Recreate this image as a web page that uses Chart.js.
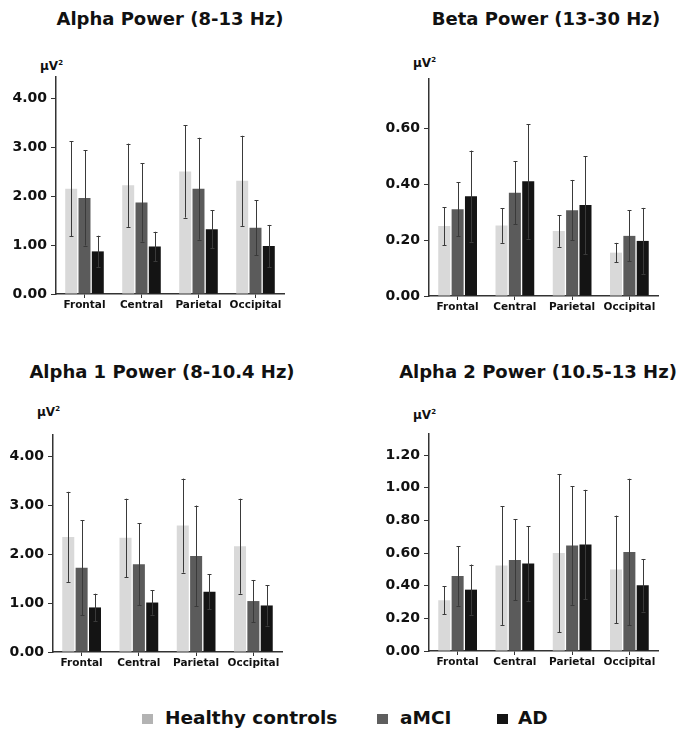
<!DOCTYPE html>
<html>
<head>
<meta charset="utf-8">
<script src="https://cdn.jsdelivr.net/npm/chart.js@4.4.1/dist/chart.umd.min.js"></script>
<style>
  body { margin: 0; background: #fff; font-family: 'DejaVu Sans', sans-serif; }
  #page { position: relative; width: 696px; height: 729px; overflow: hidden; }
  canvas { position: absolute; }
  .title { position: absolute; width: 348px; text-align: center; font-weight: bold; font-size: 18px; line-height: 22px; color: #111; }
  .unit { position: absolute; font-weight: bold; font-size: 12px; line-height: 16px; color: #111; }
  .unit sup { font-size: 7px; vertical-align: 5px; }
  .sw { position: absolute; width: 11px; height: 10px; }
  .lg { position: absolute; font-weight: bold; font-size: 18.5px; line-height: 22px; color: #111; }
</style>
</head>
<body>
<div id="page">
  <div class="title" style="left:-4px; top:8px;">Alpha Power (8-13 Hz)</div>
  <div class="title" style="left:372px; top:8px;">Beta Power (13-30 Hz)</div>
  <div class="title" style="left:-12px; top:361px;">Alpha 1 Power (8-10.4 Hz)</div>
  <div class="title" style="left:364px; top:361px;">Alpha 2 Power (10.5-13 Hz)</div>

  <div class="unit" style="left:40px; top:55px;">µV<sup>2</sup></div>
  <div class="unit" style="left:413px; top:52px;">µV<sup>2</sup></div>
  <div class="unit" style="left:37px; top:401px;">µV<sup>2</sup></div>
  <div class="unit" style="left:413px; top:404px;">µV<sup>2</sup></div>

  <canvas id="c1"></canvas>
  <canvas id="c2"></canvas>
  <canvas id="c3"></canvas>
  <canvas id="c4"></canvas>

  <div class="sw" style="left:142px; top:714px; background:#b3b3b3;"></div>
  <div class="lg" style="left:165px; top:707px;">Healthy controls</div>
  <div class="sw" style="left:377px; top:714px; background:#5e5e5e;"></div>
  <div class="lg" style="left:400px; top:707px;">aMCI</div>
  <div class="sw" style="left:497px; top:714px; background:#141414;"></div>
  <div class="lg" style="left:518px; top:707px;">AD</div>
</div>
<script>
const regions = ['Frontal', 'Central', 'Parietal', 'Occipital'];
const groups = ['Healthy controls', 'aMCI', 'AD'];
const bar_colors = ['#d9d9d9', '#5b5b5b', '#141414'];

// Alpha Power (8-13 Hz): mean and SD
const alpha_hc = [2.15, 2.22, 2.50, 2.31];
const alpha_hc_sd = [0.97, 0.85, 0.94, 0.92];
const alpha_mci = [1.96, 1.87, 2.15, 1.35];
const alpha_mci_sd = [0.97, 0.80, 1.04, 0.56];
const alpha_ad = [0.87, 0.97, 1.32, 0.98];
const alpha_ad_sd = [0.32, 0.30, 0.39, 0.43];

// Beta Power (13-30 Hz)
const beta_hc = [0.250, 0.252, 0.232, 0.155];
const beta_hc_sd = [0.068, 0.062, 0.056, 0.035];
const beta_mci = [0.310, 0.369, 0.307, 0.215];
const beta_mci_sd = [0.096, 0.112, 0.108, 0.091];
const beta_ad = [0.357, 0.410, 0.325, 0.197];
const beta_ad_sd = [0.163, 0.205, 0.175, 0.118];

// Alpha 1 Power (8-10.4 Hz)
const alpha1_hc = [2.35, 2.33, 2.58, 2.16];
const alpha1_hc_sd = [0.92, 0.80, 0.96, 0.97];
const alpha1_mci = [1.72, 1.79, 1.96, 1.04];
const alpha1_mci_sd = [0.97, 0.84, 1.03, 0.43];
const alpha1_ad = [0.91, 1.01, 1.23, 0.95];
const alpha1_ad_sd = [0.28, 0.25, 0.36, 0.41];

// Alpha 2 Power (10.5-13 Hz)
const alpha2_hc = [0.311, 0.524, 0.600, 0.500];
const alpha2_hc_sd = [0.087, 0.364, 0.485, 0.330];
const alpha2_mci = [0.460, 0.558, 0.646, 0.607];
const alpha2_mci_sd = [0.183, 0.248, 0.363, 0.449];
const alpha2_ad = [0.376, 0.536, 0.652, 0.403];
const alpha2_ad_sd = [0.154, 0.229, 0.336, 0.161];

// tick labels
const ticks_alpha = [0, 1, 2, 3, 4];
const ticks_beta = [0, 0.2, 0.4, 0.6];
const ticks_alpha2 = [0, 0.2, 0.4, 0.6, 0.8, 1.0, 1.2];

Chart.defaults.font.family = "'DejaVu Sans', sans-serif";
Chart.defaults.color = '#111';

// draws mean +/- SD whiskers on every bar
const errorBars = {
    id: 'errorBars',
    afterDatasetsDraw(chart) {
        const ctx = chart.ctx;
        const y = chart.scales.y;
        ctx.save();
        ctx.strokeStyle = '#3a3a3a';
        ctx.lineWidth = 1;
        chart.data.datasets.forEach((ds, i) => {
            const meta = chart.getDatasetMeta(i);
            meta.data.forEach((bar, j) => {
                const top = y.getPixelForValue(ds.data[j] + ds.sd[j]);
                const bot = y.getPixelForValue(ds.data[j] - ds.sd[j]);
                const x = Math.round(bar.x) + 0.5;
                ctx.beginPath();
                ctx.moveTo(x, top);
                ctx.lineTo(x, bot);
                ctx.moveTo(x - 2, Math.round(top) + 0.5);
                ctx.lineTo(x + 2, Math.round(top) + 0.5);
                ctx.moveTo(x - 2, Math.round(bot) + 0.5);
                ctx.lineTo(x + 2, Math.round(bot) + 0.5);
                ctx.stroke();
            });
        });
        ctx.restore();
    }
};

function make_chart(id, box, series, sds, yMax, yTicks){
    const canvas = document.getElementById(id);
    const padTop = 37, xAxisH = 36;
    const canvasTop = box.top - padTop;
    canvas.width = 348;
    canvas.height = box.bottom - canvasTop + xAxisH;
    canvas.style.left = box.x0 + 'px';
    canvas.style.top = canvasTop + 'px';

    return new Chart(canvas, {
        type: 'bar',
        data: {
            labels: regions,
            datasets: groups.map((g, i) => ({
                label: g,
                data: series[i],
                sd: sds[i],
                backgroundColor: bar_colors[i],
                borderWidth: 0,
                barPercentage: 0.9,
                categoryPercentage: 0.7,
            })),
        },
        options: {
            responsive: false,
            animation: false,
            layout: { padding: { top: padTop, right: box.x0 + 348 - box.right, left: 0, bottom: 0 } },
            plugins: { legend: { display: false }, tooltip: { enabled: false } },
            scales: {
                x: {
                    grid: { drawOnChartArea: false, drawTicks: true, tickLength: 4, offset: false, color: '#333' },
                    border: { color: '#333', width: 1.5 },
                    ticks: { font: { size: 10.5, weight: 'bold' }, padding: 1, maxRotation: 0, autoSkip: false, color: '#111' },
                    afterFit(scale){ scale.height = xAxisH; },
                },
                y: {
                    min: 0,
                    max: yMax,
                    grid: { drawOnChartArea: false, drawTicks: true, tickLength: 5, color: '#333' },
                    border: { color: '#333', width: 1.5 },
                    ticks: {
                        font: { size: 14, weight: 'bold' },
                        padding: 4,
                        color: '#111',
                        callback: v => Number(v).toFixed(2),
                    },
                    afterBuildTicks(scale){ scale.ticks = yTicks.map(v => ({ value: v })); },
                    afterFit(scale){ scale.width = box.left - box.x0; },
                },
            },
        },
        plugins: [errorBars],
    });
}

make_chart('c1', { x0: 0, left: 56, right: 284, top: 77, bottom: 294 },
    [alpha_hc, alpha_mci, alpha_ad], [alpha_hc_sd, alpha_mci_sd, alpha_ad_sd], 4.43, ticks_alpha);
make_chart('c2', { x0: 348, left: 429, right: 658, top: 79, bottom: 296 },
    [beta_hc, beta_mci, beta_ad], [beta_hc_sd, beta_mci_sd, beta_ad_sd], 0.776, ticks_beta);
make_chart('c3', { x0: 0, left: 53, right: 282, top: 435, bottom: 652 },
    [alpha1_hc, alpha1_mci, alpha1_ad], [alpha1_hc_sd, alpha1_mci_sd, alpha1_ad_sd], 4.43, ticks_alpha);
make_chart('c4', { x0: 348, left: 429, right: 658, top: 434, bottom: 651 },
    [alpha2_hc, alpha2_mci, alpha2_ad], [alpha2_hc_sd, alpha2_mci_sd, alpha2_ad_sd], 1.33, ticks_alpha2);
</script>
</body>
</html>
